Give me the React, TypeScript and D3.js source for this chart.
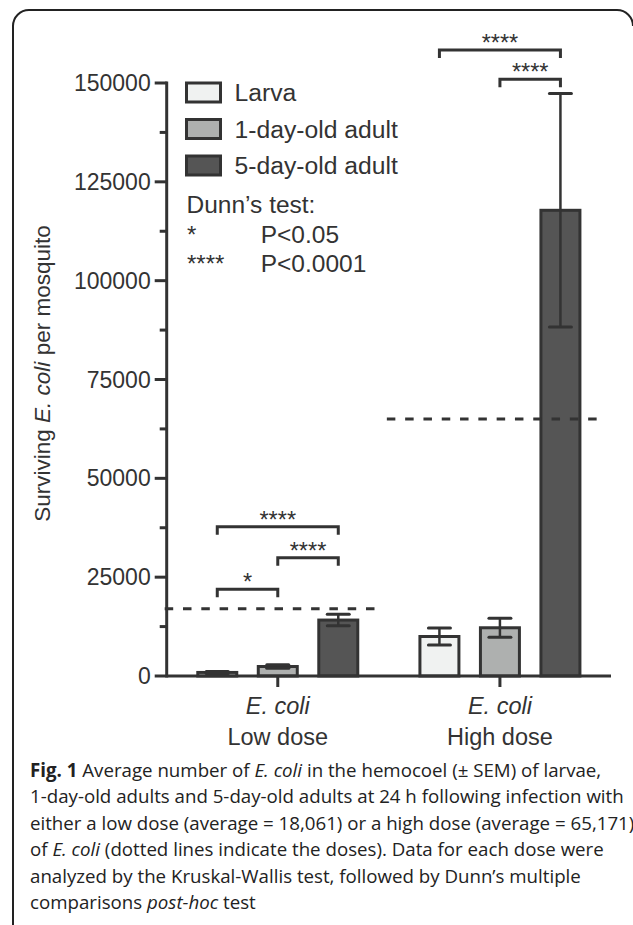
import React from "react";
import * as d3 from "d3";

const groups = ["Low dose", "High dose"];
const series = ["Larva", "1-day-old adult", "5-day-old adult"];
const fills = ["#f0f2f1", "#aeb0af", "#555555"];
// mean and SEM per group (rows) and age (columns)
const means = [
  [900, 2400, 14150],
  [9990, 12200, 117800],
];
const sems = [
  [250, 450, 1450],
  [2150, 2400, 29550],
];
const doses = [17000, 65000];
const yTicks = [0, 25000, 50000, 75000, 100000, 125000, 150000];
const yMinorTicks = [12500, 37500, 62500, 87500, 112500, 137500];
// significance brackets: group, from series, to series, height (value), label
const brackets = [
  { g: 0, a: 0, b: 1, v: 21930, label: "*" },
  { g: 0, a: 1, b: 2, v: 29920, label: "****" },
  { g: 0, a: 0, b: 2, v: 37770, label: "****" },
  { g: 1, a: 1, b: 2, v: 150940, label: "****" },
  { g: 1, a: 0, b: 2, v: 158350, label: "****" },
];
const dunnRows = [
  ["*", "P<0.05"],
  ["****", "P<0.0001"],
];

const W = 633;
const H = 925;
const ink = "#333";
const font = "'Liberation Sans', Arial, Helvetica, sans-serif";
const capFont = "'Open Sans', 'Noto Sans', sans-serif";

export default function App() {
  const y = d3.scaleLinear().domain([0, 150000]).range([676, 83]);
  const x0 = d3.scaleBand().domain(groups).range([166.7, 611]);
  const x1 = d3
    .scaleBand()
    .domain(series)
    .range([-81.5, 81.5])
    .paddingInner(0.306);
  const bw = x1.bandwidth();
  const cx = (g: number, s: number) =>
    (x0(groups[g]) as number) + x0.bandwidth() / 2 + (x1(series[s]) as number) + bw / 2;

  const axisX = x0.range()[0];
  const legendY = [92.5, 129, 165.5];

  return (
    <svg
      width={W}
      height={H}
      style={{ position: "absolute", left: 0, top: 0, background: "#fff" }}
      fontFamily={font}
    >
      {/* frame */}
      <path
        d="M13,925 L13,26 A16,16 0 0 1 29,10 L617,10 A16,16 0 0 1 633,26"
        fill="none"
        stroke="#222"
        strokeWidth={2}
      />

      {/* bars */}
      {means.map((row, g) =>
        row.map((m, s) => (
          <rect
            key={`b${g}${s}`}
            x={cx(g, s) - bw / 2 + 1.5}
            width={bw - 3}
            y={y(m)}
            height={y(0) - y(m)}
            fill={fills[s]}
            stroke={ink}
            strokeWidth={3}
          />
        ))
      )}

      {/* error bars */}
      {means.map((row, g) =>
        row.map((m, s) => {
          const c = cx(g, s);
          const hi = y(m + sems[g][s]);
          const lo = y(Math.max(0, m - sems[g][s]));
          return (
            <g key={`e${g}${s}`} stroke={ink}>
              <line x1={c} x2={c} y1={hi} y2={lo} strokeWidth={2.5} />
              <line x1={c - 11} x2={c + 11} y1={hi} y2={hi} strokeWidth={3} strokeLinecap="round" />
              <line x1={c - 11} x2={c + 11} y1={lo} y2={lo} strokeWidth={3} strokeLinecap="round" />
            </g>
          );
        })
      )}

      {/* dose lines */}
      {doses.map((d, g) => {
        const start = g === 0 ? axisX - 2 : (x0(groups[g]) as number) - 2;
        const end = (x0(groups[g]) as number) + x0.bandwidth() - 9;
        return (
          <line
            key={`d${g}`}
            x1={start}
            x2={end}
            y1={y(d)}
            y2={y(d)}
            stroke={ink}
            strokeWidth={3}
            strokeDasharray="8.5 9.8"
          />
        );
      })}

      {/* y axis */}
      <line x1={axisX} x2={axisX} y1={y(0)} y2={y(150000)} stroke={ink} strokeWidth={3} strokeLinecap="square" />
      {yTicks.map((t) => (
        <g key={`t${t}`}>
          <line x1={axisX - 12} x2={axisX} y1={y(t)} y2={y(t)} stroke={ink} strokeWidth={3} />
          <text x={axisX - 16} y={y(t)} dy="0.35em" textAnchor="end" fontSize={23} fill={ink}>
            {t}
          </text>
        </g>
      ))}
      {yMinorTicks.map((t) => (
        <line key={`m${t}`} x1={axisX - 7} x2={axisX} y1={y(t)} y2={y(t)} stroke={ink} strokeWidth={3} />
      ))}
      <text
        transform={`translate(50,${(y(0) + y(150000)) / 2 - 6}) rotate(-90)`}
        textAnchor="middle"
        fontSize={22.5}
        fill={ink}
      >
        Surviving <tspan fontStyle="italic">E. coli</tspan> per mosquito
      </text>

      {/* x axis */}
      <line x1={axisX} x2={x0.range()[1]} y1={y(0)} y2={y(0)} stroke={ink} strokeWidth={3} />
      {groups.map((g) => {
        const c = (x0(g) as number) + x0.bandwidth() / 2;
        return (
          <g key={`x${g}`}>
            <line x1={c} x2={c} y1={y(0)} y2={y(0) + 11} stroke={ink} strokeWidth={3} />
            <text x={c} y={714} textAnchor="middle" fontSize={23.5} fontStyle="italic" fill={ink}>
              E. coli
            </text>
            <text x={c} y={745} textAnchor="middle" fontSize={23.5} fill={ink}>
              {g}
            </text>
          </g>
        );
      })}

      {/* significance brackets */}
      {brackets.map((b, i) => {
        const xa = cx(b.g, b.a);
        const xb = cx(b.g, b.b);
        const yy = y(b.v);
        return (
          <g key={`s${i}`}>
            <path
              d={`M${xa},${yy + 8} L${xa},${yy} L${xb},${yy} L${xb},${yy + 8}`}
              fill="none"
              stroke={ink}
              strokeWidth={3}
            />
            <text x={(xa + xb) / 2} y={yy + 1} textAnchor="middle" fontSize={23.5} fill={ink}>
              {b.label}
            </text>
          </g>
        );
      })}

      {/* legend */}
      {series.map((s, i) => (
        <g key={`l${s}`}>
          <rect x={186.5} y={legendY[i] - 9.5} width={34} height={19} fill={fills[i]} stroke={ink} strokeWidth={3} />
          <text x={234.5} y={legendY[i]} dy="0.36em" fontSize={24.7} fill={ink}>
            {s}
          </text>
        </g>
      ))}
      <text x={186.5} y={213} fontSize={24.5} fill={ink}>
        Dunn’s test:
      </text>
      {dunnRows.map((r, i) => (
        <g key={`r${i}`}>
          <text x={187} y={243 + i * 28.7} fontSize={24} fill={ink}>
            {r[0]}
          </text>
          <text x={260.7} y={243 + i * 28.7} fontSize={24.5} fill={ink}>
            {r[1]}
          </text>
        </g>
      ))}

      {/* caption */}
      <g fontFamily={capFont} fontSize={18.7} fill="#222">
        <text x={30} y={776.5}>
          <tspan fontWeight="bold">Fig. 1</tspan> Average number of <tspan fontStyle="italic">E. coli</tspan> in the
          hemocoel (± SEM) of larvae,
        </text>
        <text x={30} y={803}>
          1-day-old adults and 5-day-old adults at 24 h following infection with
        </text>
        <text x={30} y={829.5}>
          either a low dose (average = 18,061) or a high dose (average = 65,171)
        </text>
        <text x={30} y={856}>
          of <tspan fontStyle="italic">E. coli</tspan> (dotted lines indicate the doses). Data for each dose were
        </text>
        <text x={30} y={882.5}>
          analyzed by the Kruskal-Wallis test, followed by Dunn’s multiple
        </text>
        <text x={30} y={909}>
          comparisons <tspan fontStyle="italic">post-hoc</tspan> test
        </text>
      </g>
    </svg>
  );
}
